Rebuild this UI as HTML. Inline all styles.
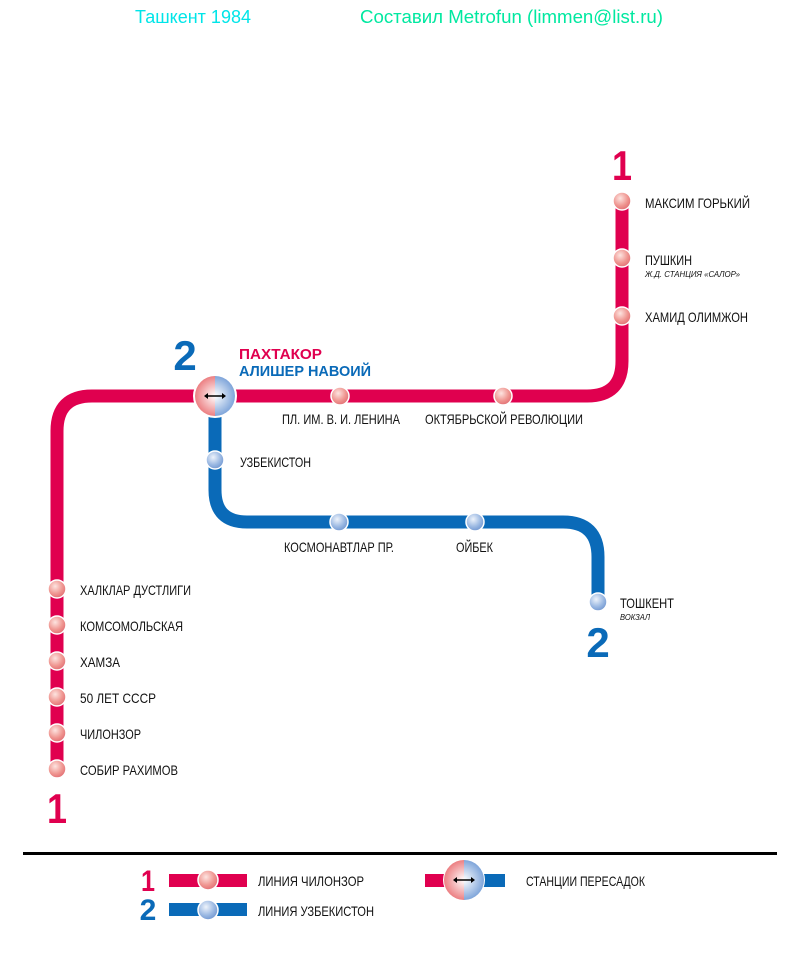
<!DOCTYPE html>
<html><head><meta charset="utf-8"><style>
html,body{margin:0;padding:0;background:#fff}
svg text{font-family:"Liberation Sans",sans-serif}
</style></head><body>
<svg width="800" height="950" viewBox="0 0 800 950" xmlns="http://www.w3.org/2000/svg">
<defs>
<radialGradient id="rs" cx="0.4" cy="0.35" r="0.7">
<stop offset="0" stop-color="#fde4e0"/><stop offset="0.6" stop-color="#ef9590"/><stop offset="1" stop-color="#e06a70"/></radialGradient>
<radialGradient id="bs" cx="0.4" cy="0.35" r="0.7">
<stop offset="0" stop-color="#eef3fb"/><stop offset="0.6" stop-color="#9ab8e2"/><stop offset="1" stop-color="#6d93cf"/></radialGradient>
<radialGradient id="ig" cx="0.5" cy="0.5" r="0.5">
<stop offset="0" stop-color="#fff"/><stop offset="0.6" stop-color="#fff" stop-opacity="0.4"/><stop offset="1" stop-color="#fff" stop-opacity="0"/></radialGradient>
</defs>
<text x="135" y="23" fill="#00e5e8" font-size="18" textLength="116" lengthAdjust="spacingAndGlyphs">Ташкент 1984</text>
<text x="360" y="23" fill="#00e8a0" font-size="18" textLength="303" lengthAdjust="spacingAndGlyphs">Составил Metrofun (limmen@list.ru)</text>

<path d="M622 205 V361 Q622 396 587 396 H92 Q57 396 57 431 V775" fill="none" stroke="#e0004f" stroke-width="13"/>
<path d="M215 396 V490 Q215 522 247 522 H563 Q598 522 598 557 V602" fill="none" stroke="#0a6ab8" stroke-width="13"/>

<g stroke="#fff" stroke-width="1.5">
<circle cx="622" cy="201" r="9" fill="url(#rs)"/>
<circle cx="622" cy="258" r="9" fill="url(#rs)"/>
<circle cx="622" cy="316" r="9" fill="url(#rs)"/>
<circle cx="340" cy="396" r="9" fill="url(#rs)"/>
<circle cx="503" cy="396" r="9" fill="url(#rs)"/>
<circle cx="57" cy="589" r="9" fill="url(#rs)"/>
<circle cx="57" cy="625" r="9" fill="url(#rs)"/>
<circle cx="57" cy="661" r="9" fill="url(#rs)"/>
<circle cx="57" cy="697" r="9" fill="url(#rs)"/>
<circle cx="57" cy="733" r="9" fill="url(#rs)"/>
<circle cx="57" cy="769" r="9" fill="url(#rs)"/>
<circle cx="215" cy="460" r="9" fill="url(#bs)"/>
<circle cx="339" cy="522" r="9" fill="url(#bs)"/>
<circle cx="475" cy="522" r="9" fill="url(#bs)"/>
<circle cx="598" cy="602" r="9" fill="url(#bs)"/>
</g>

<g>
<circle cx="215" cy="396" r="22" fill="#fff"/>
<path d="M215 376 A20 20 0 0 0 215 416 Z" fill="#ec7f82"/>
<path d="M215 376 A20 20 0 0 1 215 416 Z" fill="#7fa5da"/>
<circle cx="215" cy="396" r="20" fill="url(#ig)"/>
<line x1="206" y1="396" x2="224" y2="396" stroke="#000" stroke-width="1.5"/>
<path d="M204 396 l4 -3 v6 z M226 396 l-4 -3 v6 z" fill="#000"/>
</g>

<g font-weight="bold">
<text x="622" y="180" fill="#e0004f" font-size="42" text-anchor="middle" textLength="20" lengthAdjust="spacingAndGlyphs">1</text>
<text x="57" y="823" fill="#e0004f" font-size="42" text-anchor="middle" textLength="20" lengthAdjust="spacingAndGlyphs">1</text>
<text x="185" y="370" fill="#0a6ab8" font-size="42" text-anchor="middle">2</text>
<text x="598" y="657" fill="#0a6ab8" font-size="42" text-anchor="middle">2</text>
</g>

<g font-size="14" fill="#111" lengthAdjust="spacingAndGlyphs">
<text x="645" y="208" textLength="105" lengthAdjust="spacingAndGlyphs">МАКСИМ ГОРЬКИЙ</text>
<text x="645" y="265" textLength="47" lengthAdjust="spacingAndGlyphs">ПУШКИН</text>
<text x="645" y="277" font-size="8" font-style="italic" textLength="95" lengthAdjust="spacingAndGlyphs">Ж.Д. СТАНЦИЯ «САЛОР»</text>
<text x="645" y="322" textLength="103" lengthAdjust="spacingAndGlyphs">ХАМИД ОЛИМЖОН</text>
<text x="282" y="424" textLength="118" lengthAdjust="spacingAndGlyphs">ПЛ. ИМ. В. И. ЛЕНИНА</text>
<text x="425" y="424" textLength="158" lengthAdjust="spacingAndGlyphs">ОКТЯБРЬСКОЙ РЕВОЛЮЦИИ</text>
<text x="240" y="467" textLength="71" lengthAdjust="spacingAndGlyphs">УЗБЕКИСТОН</text>
<text x="284" y="552" textLength="110" lengthAdjust="spacingAndGlyphs">КОСМОНАВТЛАР ПР.</text>
<text x="456" y="552" textLength="37" lengthAdjust="spacingAndGlyphs">ОЙБЕК</text>
<text x="620" y="608" textLength="54" lengthAdjust="spacingAndGlyphs">ТОШКЕНТ</text>
<text x="620" y="620" font-size="8" font-style="italic" textLength="30" lengthAdjust="spacingAndGlyphs">ВОКЗАЛ</text>
<text x="80" y="595" textLength="111" lengthAdjust="spacingAndGlyphs">ХАЛКЛАР ДУСТЛИГИ</text>
<text x="80" y="631" textLength="103" lengthAdjust="spacingAndGlyphs">КОМСОМОЛЬСКАЯ</text>
<text x="80" y="667" textLength="40" lengthAdjust="spacingAndGlyphs">ХАМЗА</text>
<text x="80" y="703" textLength="76" lengthAdjust="spacingAndGlyphs">50 ЛЕТ СССР</text>
<text x="80" y="739" textLength="61" lengthAdjust="spacingAndGlyphs">ЧИЛОНЗОР</text>
<text x="80" y="775" textLength="98" lengthAdjust="spacingAndGlyphs">СОБИР РАХИМОВ</text>
</g>
<g font-size="15" font-weight="bold">
<text x="239" y="359" fill="#e0004f" textLength="83" lengthAdjust="spacingAndGlyphs">ПАХТАКОР</text>
<text x="239" y="376" fill="#0a6ab8" textLength="132" lengthAdjust="spacingAndGlyphs">АЛИШЕР НАВОИЙ</text>
</g>

<rect x="23" y="852" width="754" height="3" fill="#000"/>
<g font-weight="bold">
<text x="148" y="891" fill="#e0004f" font-size="30" text-anchor="middle" textLength="14" lengthAdjust="spacingAndGlyphs">1</text>
<text x="148" y="920" fill="#0a6ab8" font-size="30" text-anchor="middle">2</text>
</g>
<rect x="169" y="874" width="78" height="13" fill="#e0004f"/>
<circle cx="208" cy="880" r="10" fill="url(#rs)" stroke="#fff" stroke-width="1.5"/>
<rect x="169" y="903" width="78" height="13" fill="#0a6ab8"/>
<circle cx="208" cy="910" r="10" fill="url(#bs)" stroke="#fff" stroke-width="1.5"/>
<rect x="425" y="874" width="80" height="13" fill="#e0004f"/>
<rect x="475" y="874" width="30" height="13" fill="#0a6ab8"/>
<circle cx="464" cy="880" r="21" fill="#fff"/>
<path d="M464 860 A20 20 0 0 0 464 900 Z" fill="#ec7f82"/>
<path d="M464 860 A20 20 0 0 1 464 900 Z" fill="#7fa5da"/>
<circle cx="464" cy="880" r="20" fill="url(#ig)"/>
<line x1="455" y1="880" x2="473" y2="880" stroke="#000" stroke-width="1.5"/>
<path d="M453 880 l4 -3 v6 z M475 880 l-4 -3 v6 z" fill="#000"/>
<g font-size="14" fill="#111">
<text x="258" y="886" textLength="106" lengthAdjust="spacingAndGlyphs">ЛИНИЯ ЧИЛОНЗОР</text>
<text x="258" y="916" textLength="116" lengthAdjust="spacingAndGlyphs">ЛИНИЯ УЗБЕКИСТОН</text>
<text x="526" y="886" textLength="119" lengthAdjust="spacingAndGlyphs">СТАНЦИИ ПЕРЕСАДОК</text>
</g>
</svg>
</body></html>
